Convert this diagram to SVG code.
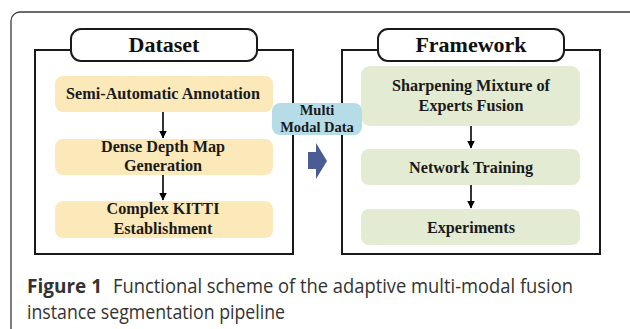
<svg xmlns="http://www.w3.org/2000/svg" width="630" height="329" viewBox="0 0 630 329">
<style>
.frame{fill:none;stroke:#3a3a3a;stroke-width:1.3}
.panel{fill:#fff;stroke:#1a1a1a;stroke-width:2}
.tab{fill:#fff;stroke:#1a1a1a;stroke-width:2}
.title{font-family:"Liberation Serif",serif;font-weight:bold;font-size:22px;fill:#111;text-anchor:middle}
.lbl{font-family:"Liberation Serif",serif;font-weight:bold;font-size:16.2px;fill:#1a1a1a;text-anchor:middle}
.yel{fill:#fce9b9}
.grn{fill:#e4ebd3}
.blu{fill:#b6dde7}
.conn{stroke:#000;stroke-width:1.6;fill:none}
.cap{font-family:"Open Sans",sans-serif;font-size:20px;fill:#333}
</style>
<defs>
<marker id="ah" markerWidth="8" markerHeight="10" refX="7.5" refY="4" orient="auto" markerUnits="userSpaceOnUse" viewBox="0 0 8 8">
<path d="M0,0 L8,4 L0,8 Z" fill="#000"/>
</marker>
</defs>
<rect class="frame" x="11" y="12" width="640" height="340" rx="9"/>
<g id="dataset">
<rect class="panel" x="35" y="50" width="258" height="204"/>
<rect class="tab" x="71" y="29" width="186" height="32" rx="10"/>
<text class="title" x="164" y="52">Dataset</text>
</g>
<g id="framework">
<rect class="panel" x="342" y="50" width="258" height="204"/>
<rect class="tab" x="378" y="29" width="186" height="32" rx="10"/>
<text class="title" x="471" y="52">Framework</text>
</g>
<g id="n-semi">
<rect class="yel" x="55" y="76" width="218" height="36" rx="8"/>
<text class="lbl" x="163" y="99">Semi-Automatic Annotation</text>
</g>
<g id="n-dense">
<rect class="yel" x="55" y="139" width="218" height="36" rx="8"/>
<text class="lbl" x="163" y="152">Dense Depth Map</text>
<text class="lbl" x="163" y="171">Generation</text>
</g>
<g id="n-kitti">
<rect class="yel" x="55" y="201" width="218" height="37" rx="8"/>
<text class="lbl" x="163" y="214">Complex KITTI</text>
<text class="lbl" x="163" y="234">Establishment</text>
</g>
<g id="n-smoe">
<rect class="grn" x="361" y="66" width="219" height="60" rx="9"/>
<text class="lbl" x="471" y="91">Sharpening Mixture of</text>
<text class="lbl" x="471" y="111">Experts Fusion</text>
</g>
<g id="n-train">
<rect class="grn" x="361" y="149" width="219" height="36" rx="8"/>
<text class="lbl" x="471" y="173">Network Training</text>
</g>
<g id="n-exp">
<rect class="grn" x="361" y="209" width="219" height="36" rx="8"/>
<text class="lbl" x="471" y="233">Experiments</text>
</g>
<g id="n-multi">
<rect class="blu" x="272" y="103" width="90" height="32" rx="8"/>
<text class="lbl" x="317" y="115" style="font-size:14.5px">Multi</text>
<text class="lbl" x="317" y="132" style="font-size:14.5px">Modal Data</text>
</g>
<g id="connectors">
<line class="conn" x1="163" y1="112" x2="163" y2="138" marker-end="url(#ah)"/>
<line class="conn" x1="163" y1="175" x2="163" y2="200" marker-end="url(#ah)"/>
<line class="conn" x1="471" y1="126" x2="471" y2="148" marker-end="url(#ah)"/>
<line class="conn" x1="471" y1="185" x2="471" y2="208" marker-end="url(#ah)"/>
<polygon points="308,152 316,152 316,143 327,161 316,179 316,169 308,169" fill="#4a5c94"/>
</g>
<text class="cap" x="27" y="293" font-weight="bold" fill="#111" textLength="75" lengthAdjust="spacingAndGlyphs">Figure 1</text>
<text class="cap" x="113" y="293" textLength="460" lengthAdjust="spacingAndGlyphs">Functional scheme of the adaptive multi-modal fusion</text>
<text class="cap" x="27" y="319" textLength="258" lengthAdjust="spacingAndGlyphs">instance segmentation pipeline</text>
</svg>
